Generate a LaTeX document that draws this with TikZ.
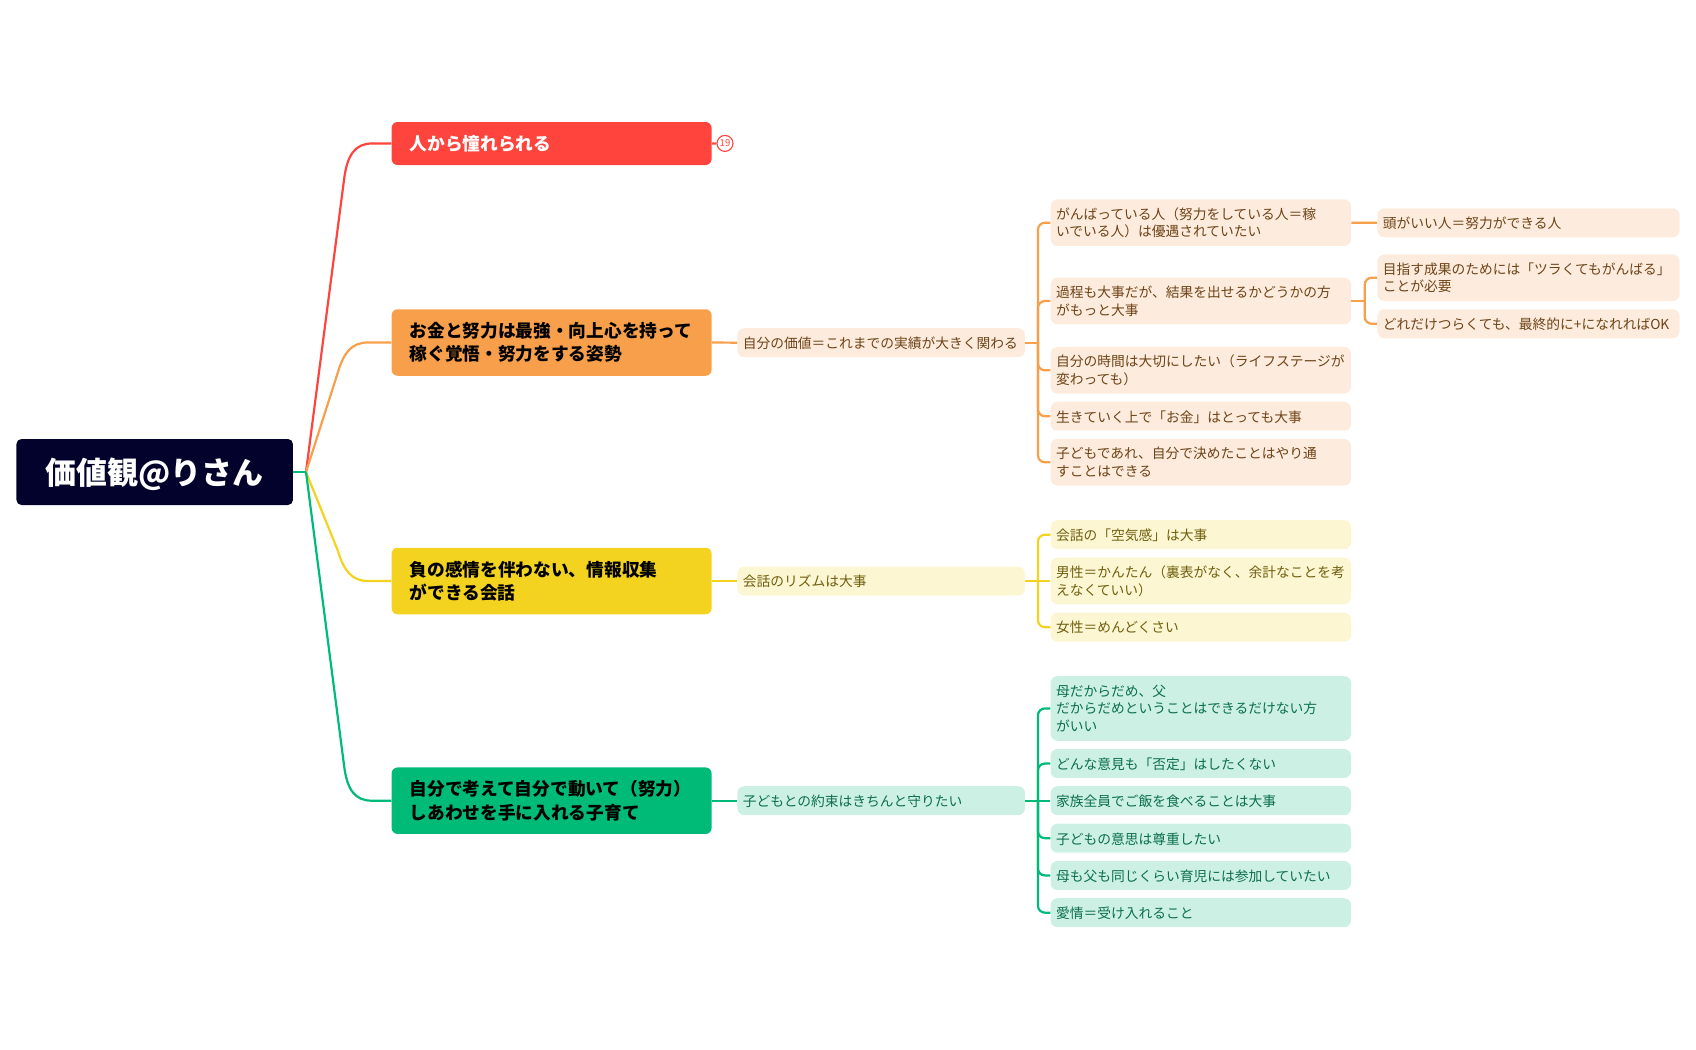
\documentclass[tikz,border=0pt]{standalone}
\usepackage{fontspec}
\setmainfont{Noto Sans CJK JP}
\definecolor{cRoot}{HTML}{02022C}
\definecolor{cRed}{HTML}{FF443E}
\definecolor{cOrange}{HTML}{F79F4B}
\definecolor{cYellow}{HTML}{F3D31F}
\definecolor{cGreen}{HTML}{00BA78}
\definecolor{tOrange}{HTML}{FDECDD}
\definecolor{tYellow}{HTML}{FDF6D2}
\definecolor{tGreen}{HTML}{CCF1E4}
\definecolor{xOrange}{HTML}{6E4317}
\definecolor{xYellow}{HTML}{6F5F0E}
\definecolor{xGreen}{HTML}{0B6E4D}
\tikzset{
  rootbox/.style={fill=cRoot,text=white,rounded corners=5pt,minimum width=276.5pt,minimum height=66pt,inner sep=0pt,font=\fontsize{31}{37}\selectfont\bfseries},
  mainbox/.style={rounded corners=6pt,minimum width=320pt,text width=284pt,inner xsep=18pt,inner ysep=0pt,align=left,text=black,font=\fontsize{17.7}{23.3}\selectfont\bfseries},
  twoline/.style={minimum height=66.5pt},
  subbox/.style={rounded corners=7pt,text width=288pt,inner xsep=5pt,inner ysep=0pt,align=left,font=\fontsize{13.75}{17.8}\selectfont},
  wide3/.style={subbox,minimum width=300.5pt,text width=289.5pt},
  wide2/.style={subbox,minimum width=287.7pt,text width=276.7pt},
  wide4/.style={subbox,minimum width=302.2pt,text width=291.2pt},
  oneh/.style={minimum height=29pt,execute at begin node={\vspace*{-2pt}}},
  twoh/.style={minimum height=46.7pt},
  threeh/.style={minimum height=64.7pt},
  ob/.style={fill=tOrange,text=xOrange},
  yb/.style={fill=tYellow,text=xYellow},
  gb/.style={fill=tGreen,text=xGreen},
  link/.style={line width=2.2pt,line cap=butt},
  fork/.style={line width=2.2pt,rounded corners=7pt},
}
\begin{document}
\begin{tikzpicture}[x=1pt,y=-1pt]
\useasboundingbox (0,0) rectangle (1696,1049);
% root and main branches
\node[rootbox] (root) at (154.7,472) {\raisebox{-12pt}[0pt][0pt]{価値観@りさん}};
\node[mainbox,fill=cRed,text=white,minimum height=43pt] (r1) at (551.6,143.5) {人から憧れられる};
\node[mainbox,twoline,fill=cOrange] (o1) at (551.6,342.5) {お金と努力は最強・向上心を持って\\稼ぐ覚悟・努力をする姿勢};
\node[mainbox,twoline,fill=cYellow] (y1) at (551.6,581) {負の感情を伴わない、情報収集\\ができる会話};
\node[mainbox,twoline,fill=cGreen] (g1) at (551.6,800.7) {自分で考えて自分で動いて（努力）\\しあわせを手に入れる子育て};
\coordinate (hub) at (306,472);
% badge
\node[circle,draw=cRed,fill=white,line width=1.1pt,minimum size=16pt,inner sep=0pt,text=cRed,font=\fontsize{9.5}{10}\selectfont] (badge) at (725,143.4) {19};
% level 2
\node[wide2,ob,oneh] (o2) at (881.2,342.7) {自分の価値＝これまでの実績が大きく関わる};
\node[wide2,yb,oneh] (y2) at (881.2,581) {会話のリズムは大事};
\node[wide2,gb,oneh] (g2) at (881.2,800.7) {子どもとの約束はきちんと守りたい};
% orange level 3
\node[wide3,ob,twoh] (o3a) at (1200.8,222.7) {がんばっている人（努力をしている人＝稼\\いでいる人）は優遇されていたい};
\node[wide3,ob,twoh] (o3b) at (1200.8,301) {過程も大事だが、結果を出せるかどうかの方\\がもっと大事};
\node[wide3,ob,twoh] (o3c) at (1200.8,370.3) {自分の時間は大切にしたい（ライフステージが\\変わっても）};
\node[wide3,ob,oneh] (o3d) at (1200.8,416.2) {生きていく上で「お金」はとっても大事};
\node[wide3,ob,twoh] (o3e) at (1200.8,462.3) {子どもであれ、自分で決めたことはやり通\\すことはできる};
% orange level 4
\node[wide4,ob,oneh] (o4a) at (1528.5,222.8) {頭がいい人＝努力ができる人};
\node[wide4,ob,twoh] (o4b) at (1528.5,277.7) {目指す成果のためには「ツラくてもがんばる」\\ことが必要};
\node[wide4,ob,oneh] (o4c) at (1528.5,323.8) {どれだけつらくても、最終的に+になれればOK};
% yellow level 3
\node[wide3,yb,oneh] (y3a) at (1200.8,534.7) {会話の「空気感」は大事};
\node[wide3,yb,twoh] (y3b) at (1200.8,581) {男性＝かんたん（裏表がなく、余計なことを考\\えなくていい）};
\node[wide3,yb,oneh] (y3c) at (1200.8,627.2) {女性＝めんどくさい};
% green level 3
\node[wide3,gb,threeh] (g3a) at (1200.8,708.4) {母だからだめ、父\\だからだめということはできるだけない方\\がいい};
\node[wide3,gb,oneh] (g3b) at (1200.8,763.5) {どんな意見も「否定」はしたくない};
\node[wide3,gb,oneh] (g3c) at (1200.8,800.7) {家族全員でご飯を食べることは大事};
\node[wide3,gb,oneh] (g3d) at (1200.8,838.2) {子どもの意思は尊重したい};
\node[wide3,gb,oneh] (g3e) at (1200.8,875.5) {母も父も同じくらい育児には参加していたい};
\node[wide3,gb,oneh] (g3f) at (1200.8,912.7) {愛情＝受け入れること};
% root connectors
\draw[link,cRed] (hub) -- (344,180) .. controls (347,155) and (355,143.5) .. (372,143.5) -- (r1.west);
\draw[link,cOrange] (hub) -- (338,372) .. controls (344,352) and (352,342.5) .. (368,342.5) -- (o1.west);
\draw[link,cYellow] (hub) -- (338,551) .. controls (344,571) and (352,581) .. (368,581) -- (y1.west);
\draw[link,cGreen] (hub) -- (344,765) .. controls (347,790) and (355,800.7) .. (372,800.7) -- (g1.west);
\draw[link,cGreen] (root.east) -- (hub);
% main to level 2
\draw[link,cRed] (r1.east) -- (badge.west);
\draw[link,cOrange] (o1.east) -- (o2.west);
\draw[link,cYellow] (y1.east) -- (y2.west);
\draw[link,cGreen] (g1.east) -- (g2.west);
% level 2 to level 3
\draw[link,cOrange] (o2.east) -- ++(12.7,0) coordinate (os);
\foreach \c in {o3a,o3b,o3c,o3d,o3e} \draw[fork,cOrange] (os) |- (\c.west);
\draw[link,cYellow] (y2.east) -- ++(12.7,0) coordinate (ys);
\foreach \c in {y3a,y3c} \draw[fork,cYellow] (ys) |- (\c.west);
\draw[link,cYellow] (y2.east) -- (y3b.west);
\draw[link,cGreen] (g2.east) -- ++(12.7,0) coordinate (gs);
\foreach \c in {g3a,g3b,g3d,g3e,g3f} \draw[fork,cGreen] (gs) |- (\c.west);
\draw[link,cGreen] (g2.east) -- (g3c.west);
% level 3 to level 4
\draw[link,cOrange] (o3a.east) -- (o4a.west);
\draw[link,cOrange] (o3b.east) -- ++(13.5,0) coordinate (bs);
\foreach \c in {o4b,o4c} \draw[fork,cOrange] (bs) |- (\c.west);
\end{tikzpicture}
\end{document}
